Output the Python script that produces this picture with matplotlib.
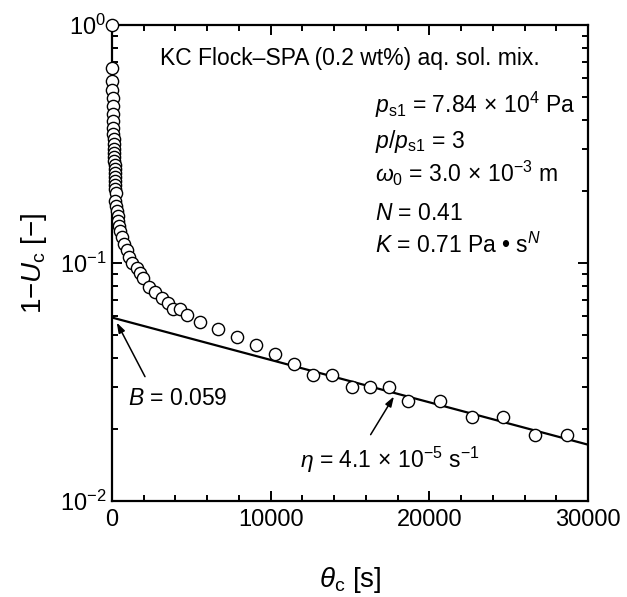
import numpy as np
import matplotlib
matplotlib.use("Agg")
import matplotlib.pyplot as plt
from matplotlib.ticker import LogLocator, MultipleLocator, NullFormatter

plt.rcParams["font.family"] = ["Liberation Sans", "DejaVu Sans"]
plt.rcParams["mathtext.fontset"] = "custom"
plt.rcParams["mathtext.rm"] = "Liberation Sans"
plt.rcParams["mathtext.it"] = "Liberation Sans:italic"
plt.rcParams["mathtext.bf"] = "Liberation Sans:bold"

# measured 1-Uc against consolidation time (s)
theta_c = [0, 10, 20, 30, 40, 50, 60, 70, 80, 90, 100, 110, 120, 130, 140,
           150, 160, 170, 180, 190, 200, 210, 220, 230, 189, 252, 296, 347,
           397, 441, 504, 630, 756, 927, 1071, 1242, 1557, 1765, 1935, 2351,
           2710, 3133, 3549, 3864, 4286, 4708,
           5550, 6700, 7900, 9080, 10290, 11490, 12690, 13890, 15110, 16280,
           17480, 18680, 20670, 22670, 24660, 26660, 28660]
one_minus_uc = [1.0, 0.660, 0.582, 0.533, 0.494, 0.457, 0.423, 0.395, 0.369,
                0.348, 0.332, 0.316, 0.301, 0.290, 0.279, 0.268, 0.258, 0.248,
                0.239, 0.230, 0.221, 0.213, 0.205, 0.197, 0.182, 0.174, 0.165,
                0.158, 0.150, 0.143, 0.136, 0.129, 0.120, 0.113, 0.106, 0.100,
                0.0953, 0.0908, 0.0865, 0.0793, 0.0755, 0.0713, 0.0679, 0.0641,
                0.0641, 0.0605,
                0.0567, 0.0528, 0.0490, 0.0452, 0.0415, 0.0376, 0.0338, 0.0338,
                0.0302, 0.0302, 0.0302, 0.0263, 0.0263, 0.0226, 0.0226, 0.0189,
                0.0189]

# secondary consolidation fit: 1-Uc = B exp(-eta theta)
B = 0.059
eta = 4.1e-5

fig = plt.figure(figsize=(6.27, 5.97), dpi=100)
ax = fig.add_axes([112 / 627, 1 - 501 / 597, 476 / 627, 476 / 597])

th = np.linspace(0, 30000, 200)
ax.plot(th, B * np.exp(-eta * th), color="k", lw=1.6, zorder=2)
ax.plot(theta_c, one_minus_uc, "o", ms=8.8, mfc="white", mec="k", mew=1.0,
        clip_on=False, zorder=3)

ax.set_yscale("log")
ax.set_xlim(0, 30000)
ax.set_ylim(1e-2, 1e0)
ax.xaxis.set_major_locator(MultipleLocator(10000))
ax.xaxis.set_minor_locator(MultipleLocator(2000))
ax.yaxis.set_major_locator(LogLocator(base=10))
ax.yaxis.set_minor_locator(LogLocator(base=10, subs=np.arange(2, 10)))
ax.yaxis.set_minor_formatter(NullFormatter())
ax.tick_params(which="both", direction="in", top=True, right=True,
               labelsize=17, width=1.4)
ax.tick_params(which="major", length=7)
ax.tick_params(which="minor", length=4.5)
ax.tick_params(axis="x", which="major", pad=6)
ax.tick_params(axis="y", which="major", pad=4)
for sp in ax.spines.values():
    sp.set_linewidth(1.6)

ax.set_xlabel(r"$\theta_{\rm c}$ [s]", fontsize=20, labelpad=24)
ax.set_ylabel(r"1−$U_{\rm c}$ [−]", fontsize=20, labelpad=8)

ax.text(0.5, 0.916, "KC Flock–SPA (0.2 wt%) aq. sol. mix.",
        transform=ax.transAxes, ha="center", va="baseline", fontsize=16.5)
params = [
    (0.815, r"$p_{\rm s1}$ = 7.84$\,\times\,$10$^{4}$ Pa"),
    (0.742, r"$p$/$p_{\rm s1}$ = 3"),
    (0.670, r"$\omega_{0}$ = 3.0$\,\times\,$10$^{-3}$ m"),
    (0.590, r"$N$ = 0.41"),
    (0.521, "$K$ = 0.71 Pa \u2022 s$^{N}$"),
]
for yy, txt in params:
    ax.text(0.5525, yy, txt, transform=ax.transAxes, ha="left",
            va="baseline", fontsize=16.5)

arrow = dict(arrowstyle="-|>,head_length=0.6,head_width=0.2", color="k",
             lw=1.1, shrinkA=0, shrinkB=0)
ax.annotate("", xy=(300, 0.0562), xytext=(2080, 0.0333), arrowprops=arrow)
ax.text(1010, 0.0253, r"$B$ = 0.059", ha="left", va="baseline", fontsize=16.5)

ax.annotate("", xy=(17770, 0.0275), xytext=(16300, 0.0190), arrowprops=arrow)
ax.text(11850, 0.01376, r"$\eta$ = 4.1$\,\times\,$10$^{-5}$ s$^{-1}$",
        ha="left", va="baseline", fontsize=16.5)

fig.savefig("out.png", dpi=100)
